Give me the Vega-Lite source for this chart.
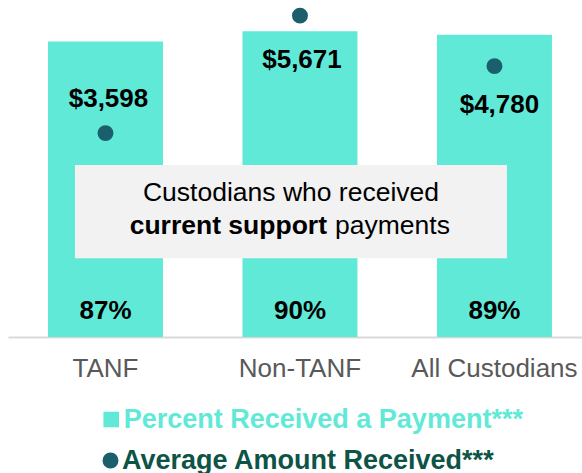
{
  "$schema": "https://vega.github.io/schema/vega-lite/v6.json",
  "width": 574,
  "height": 337,
  "autosize": {"type": "none"},
  "padding": {"left": 8, "top": 0, "right": 0, "bottom": 136},
  "background": "white",
  "config": {"view": {"stroke": null}, "font": "Liberation Sans"},
  "datasets": {
    "main": [
      {"group": "TANF", "pct": 0.87, "amount": 3598},
      {"group": "Non-TANF", "pct": 0.90, "amount": 5671},
      {"group": "All Custodians", "pct": 0.89, "amount": 4780}
    ]
  },
  "layer": [
    {
      "data": {"name": "main"},
      "encoding": {
        "x": {
          "field": "group", "type": "nominal",
          "sort": ["TANF", "Non-TANF", "All Custodians"],
          "scale": {"type": "band", "paddingInner": 0.4087, "paddingOuter": 0.18, "align": 0.571},
          "axis": {"title": null, "labelAngle": 0, "ticks": false, "grid": false,
                   "domainColor": "#D9D9D9", "domainWidth": 2,
                   "labelColor": "#595959", "labelFontSize": 26, "labelFont": "Liberation Sans",
                   "labelPadding": 18}
        }
      },
      "layer": [
        {
          "mark": {"type": "bar", "strokeWidth": 0},
          "encoding": {
            "y": {"field": "pct", "type": "quantitative", "scale": {"domain": [0, 0.992], "nice": false}, "axis": null},
            "fill": {
              "datum": "Percent Received a Payment***", "type": "nominal",
              "scale": {"range": ["#61E9D7"]},
              "legend": {"title": null, "orient": "none", "legendX": 89.7, "legendY": 406,
                         "symbolType": "square", "symbolSize": 243, "symbolStrokeWidth": 0,
                         "labelFontSize": 27, "labelFont": "Liberation Sans", "labelFontWeight": "bold",
                         "labelColor": "#61E9D7", "labelOffset": -1, "padding": 0, "labelLimit": 600}
            }
          }
        },
        {
          "mark": {"type": "text", "fontSize": 26, "fontWeight": "bold", "baseline": "alphabetic", "dy": -17.7, "color": "#000000"},
          "encoding": {
            "y": {"datum": 0, "type": "quantitative"},
            "text": {"field": "pct", "type": "quantitative", "format": ".0%"}
          }
        }
      ]
    },
    {
      "layer": [
        {
          "data": {"values": [{}]},
          "mark": {"type": "rect", "color": "#F2F2F2"},
          "encoding": {
            "x": {"datum": -0.157, "type": "quantitative", "scale": {"domain": [-0.5013, 2.4499], "nice": false, "zero": false}, "axis": null},
            "x2": {"datum": 2.064},
            "y": {"datum": 0.2317, "type": "quantitative", "scale": {"domain": [0, 0.992], "nice": false}, "axis": null},
            "y2": {"datum": 0.5063}
          }
        },
        {
          "data": {"values": [{}]},
          "mark": {"type": "text", "fontSize": 26.5, "baseline": "alphabetic", "align": "center", "color": "#000000"},
          "encoding": {
            "x": {"datum": 0.9537, "type": "quantitative"},
            "y": {"datum": 0.4012, "type": "quantitative"},
            "text": {"value": "Custodians who received"}
          }
        },
        {
          "data": {"values": [{}]},
          "mark": {"type": "text", "fontSize": 26.5, "fontWeight": "bold", "baseline": "alphabetic", "align": "right", "color": "#000000"},
          "encoding": {
            "x": {"datum": 1.1388, "type": "quantitative"},
            "y": {"datum": 0.3032, "type": "quantitative"},
            "text": {"value": "current support"}
          }
        },
        {
          "data": {"values": [{}]},
          "mark": {"type": "text", "fontSize": 26.5, "baseline": "alphabetic", "align": "left", "color": "#000000"},
          "encoding": {
            "x": {"datum": 1.18, "type": "quantitative"},
            "y": {"datum": 0.3032, "type": "quantitative"},
            "text": {"value": "payments"}
          }
        }
      ]
    },
    {
      "data": {"name": "main"},
      "encoding": {
        "x": {
          "field": "group", "type": "nominal",
          "sort": ["TANF", "Non-TANF", "All Custodians"],
          "scale": {"type": "band", "paddingInner": 0.4087, "paddingOuter": 0.18, "align": 0.571},
          "axis": null
        },
        "y": {"field": "amount", "type": "quantitative", "scale": {"domain": [0, 5947], "nice": false}, "axis": null}
      },
      "layer": [
        {
          "mark": {"type": "point", "filled": true, "opacity": 1, "size": 254, "shape": "circle", "strokeWidth": 0},
          "encoding": {
            "color": {
              "datum": "Average Amount Received***", "type": "nominal",
              "scale": {"range": ["#1B5F6C"]},
              "legend": {"title": null, "orient": "none", "legendX": 89, "legendY": 447,
                         "symbolType": "circle", "symbolSize": 254, "symbolStrokeWidth": 0, "symbolOpacity": 1,
                         "labelFontSize": 27, "labelFont": "Liberation Sans", "labelFontWeight": "bold",
                         "labelColor": "#0D5446", "labelOffset": -2, "padding": 0, "labelLimit": 600}
            }
          }
        },
        {
          "transform": [{"filter": "datum.group === 'TANF'"}],
          "mark": {"type": "text", "fontSize": 26, "fontWeight": "bold", "baseline": "alphabetic", "dy": -26, "dx": 3, "color": "#000000"},
          "encoding": {"text": {"field": "amount", "type": "quantitative", "format": "$,.0f"}}
        },
        {
          "transform": [{"filter": "datum.group === 'Non-TANF'"}],
          "mark": {"type": "text", "fontSize": 26, "fontWeight": "bold", "baseline": "alphabetic", "dy": 52.6, "dx": 2, "color": "#000000"},
          "encoding": {"text": {"field": "amount", "type": "quantitative", "format": "$,.0f"}}
        },
        {
          "transform": [{"filter": "datum.group === 'All Custodians'"}],
          "mark": {"type": "text", "fontSize": 26, "fontWeight": "bold", "baseline": "alphabetic", "dy": 47.3, "dx": 5, "color": "#000000"},
          "encoding": {"text": {"field": "amount", "type": "quantitative", "format": "$,.0f"}}
        }
      ]
    }
  ],
  "resolve": {"scale": {"x": "independent", "y": "independent"}}
}
